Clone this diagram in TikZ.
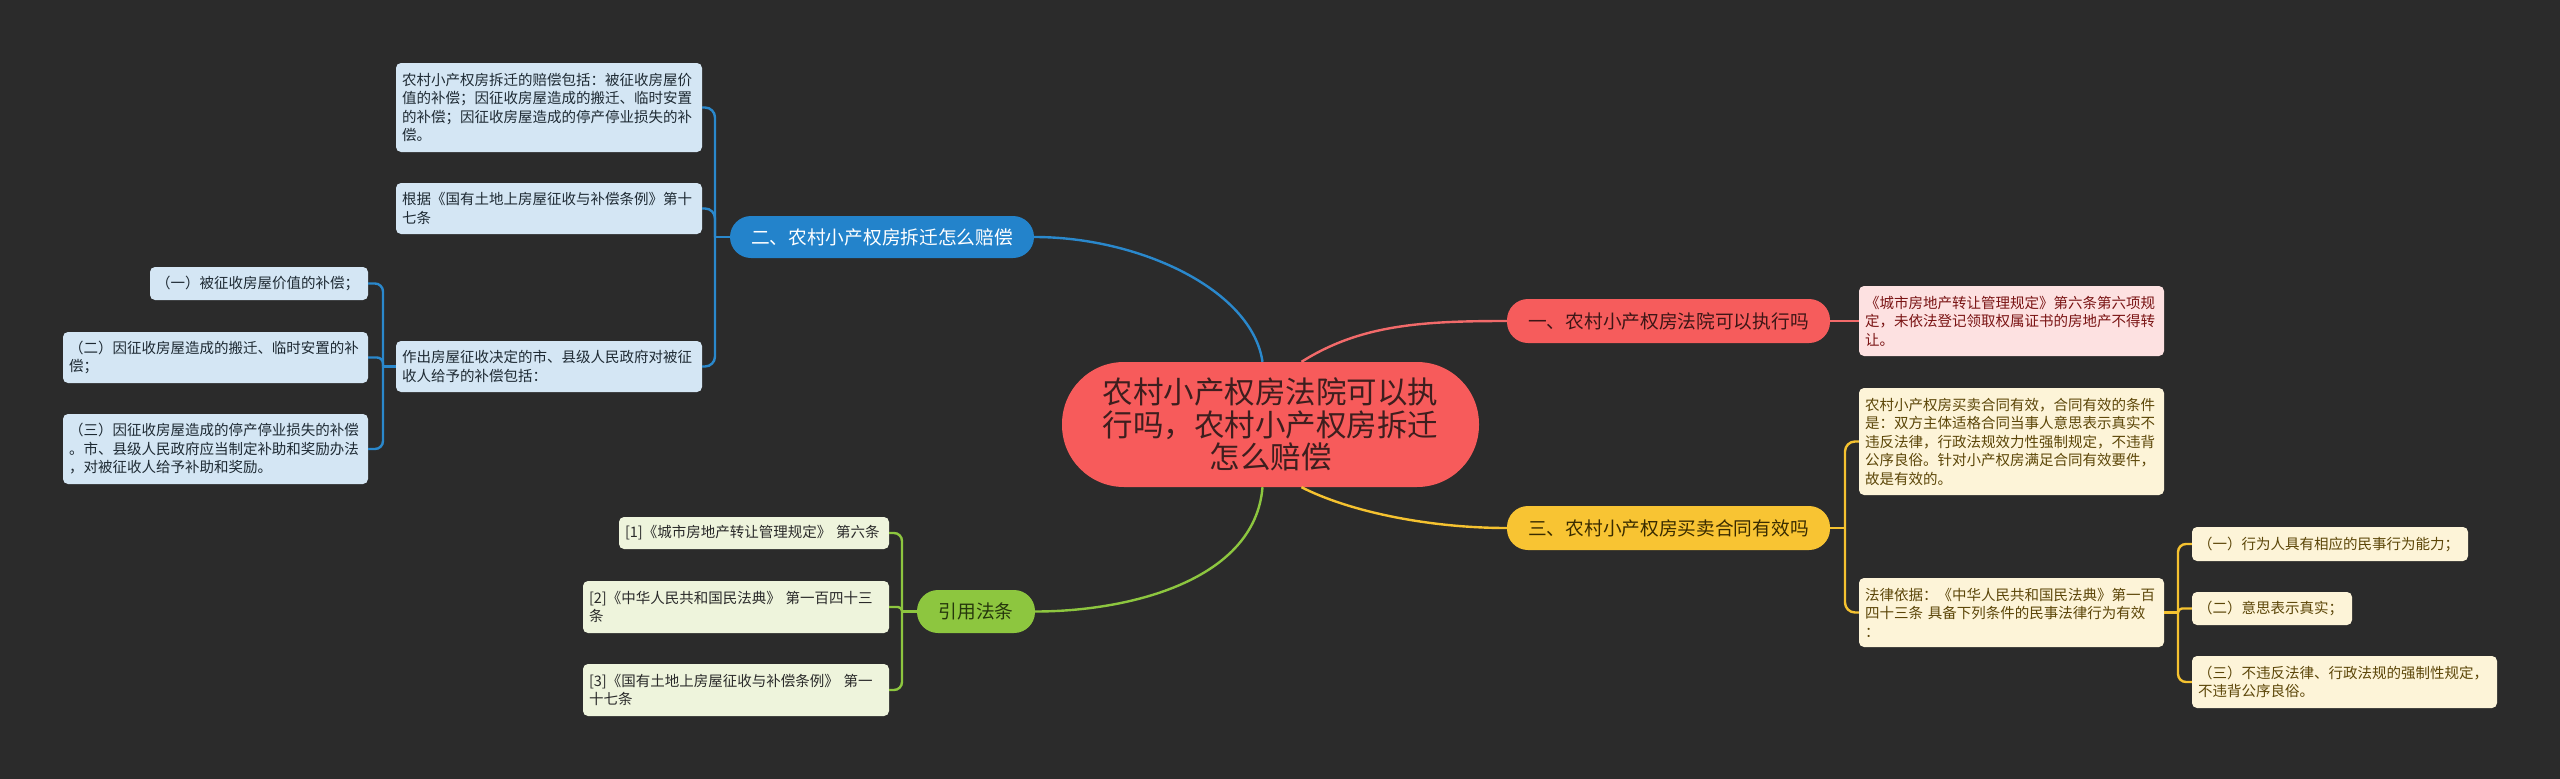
\documentclass[tikz,border=0pt]{standalone}
\usepackage{fontspec}
\setmainfont{Noto Sans CJK SC}
\definecolor{bg}{HTML}{2B2B2B}
\definecolor{centerfill}{HTML}{F75B5B}
\definecolor{centertext}{HTML}{3D1E1E}
\definecolor{bluemain}{HTML}{2383CB}
\definecolor{blueline}{HTML}{2A88CC}
\definecolor{bleaffill}{HTML}{D4E6F4}
\definecolor{bleaftext}{HTML}{1E2A33}
\definecolor{redmain}{HTML}{F65C5C}
\definecolor{redline}{HTML}{F26A6A}
\definecolor{redtext}{HTML}{3D1616}
\definecolor{rleaffill}{HTML}{FDE1E1}
\definecolor{rleaftext}{HTML}{7A1414}
\definecolor{yelmain}{HTML}{F8C433}
\definecolor{yelline}{HTML}{F5C230}
\definecolor{yeltext}{HTML}{3A2C00}
\definecolor{yleaffill}{HTML}{FDF4D8}
\definecolor{yleaftext}{HTML}{5C4608}
\definecolor{grnmain}{HTML}{8DC63F}
\definecolor{grnline}{HTML}{8DC63F}
\definecolor{grntext}{HTML}{26380C}
\definecolor{gleaffill}{HTML}{EEF4DC}
\definecolor{gleaftext}{HTML}{2A2A2A}
\begin{document}
\begin{tikzpicture}[x=1pt,y=-1pt,
  box/.style={rounded corners=5pt, inner xsep=6pt, inner ysep=0pt, align=left,
    font=\fontsize{14.5}{18.5}\selectfont},
  bleaf/.style={box, fill=bleaffill, text=bleaftext},
  rleaf/.style={box, fill=rleaffill, text=rleaftext},
  yleaf/.style={box, fill=yleaffill, text=yleaftext},
  gleaf/.style={box, fill=gleaffill, text=gleaftext},
  mainb/.style={rounded corners=21pt, inner sep=0pt, align=center,
    font=\fontsize{18.7}{22}\selectfont},
  conn/.style={line width=2.4pt},
  bl/.style={conn, draw=blueline},
  rl/.style={conn, draw=redline},
  yl/.style={conn, draw=yelline},
  gl/.style={conn, draw=grnline},
]
\fill[bg] (0,0) rectangle (2560,779);
\useasboundingbox (0,0) rectangle (2560,779);

% center
\node[fill=centerfill, text=centertext, rounded corners=62pt, minimum width=417pt,
  minimum height=125pt, inner sep=0pt, align=center,
  font=\fontsize{30.5}{32.5}\selectfont] (C) at (1270.5,424.5)
  {农村小产权房法院可以执\\行吗，农村小产权房拆迁\\怎么赔偿};

% main branches
\node[mainb, fill=bluemain, text=white, minimum width=304pt, minimum height=42pt] (BM) at (882,237) {二、农村小产权房拆迁怎么赔偿};
\node[mainb, fill=redmain, text=redtext, minimum width=323pt, minimum height=44pt] (RM) at (1668.5,321) {一、农村小产权房法院可以执行吗};
\node[mainb, fill=yelmain, text=yeltext, minimum width=323pt, minimum height=44pt] (YM) at (1668.5,528) {三、农村小产权房买卖合同有效吗};
\node[mainb, fill=grnmain, text=grntext, minimum width=118pt, minimum height=43pt] (GM) at (976,611.5) {引用法条};

% blue leaves
\node[bleaf, text width=294pt, minimum height=89pt] (B1) at (549,107.5)
  {农村小产权房拆迁的赔偿包括：被征收房屋价\\值的补偿；因征收房屋造成的搬迁、临时安置\\的补偿；因征收房屋造成的停产停业损失的补\\偿。};
\node[bleaf, text width=294pt, minimum height=51pt] (B2) at (549,208.5)
  {根据《国有土地上房屋征收与补偿条例》第十\\七条};
\node[bleaf, text width=294pt, minimum height=51pt] (B3) at (549,366.5)
  {作出房屋征收决定的市、县级人民政府对被征\\收人给予的补偿包括：};
\node[bleaf, text width=206pt, minimum height=33pt] (B3a) at (259,283.5)
  {（一）被征收房屋价值的补偿；};
\node[bleaf, text width=293pt, minimum height=51pt] (B3b) at (215.5,357.5)
  {（二）因征收房屋造成的搬迁、临时安置的补\\偿；};
\node[bleaf, text width=293pt, minimum height=70pt] (B3c) at (215.5,449)
  {（三）因征收房屋造成的停产停业损失的补偿\\。市、县级人民政府应当制定补助和奖励办法\\，对被征收人给予补助和奖励。};

% green leaves
\node[gleaf, text width=258pt, minimum height=32pt] (G1) at (754,533)
  {[1]《城市房地产转让管理规定》 第六条};
\node[gleaf, text width=294pt, minimum height=52pt] (G2) at (736,607)
  {[2]《中华人民共和国民法典》 第一百四十三\\条};
\node[gleaf, text width=294pt, minimum height=52pt] (G3) at (736,690)
  {[3]《国有土地上房屋征收与补偿条例》 第一\\十七条};

% red leaf
\node[rleaf, text width=293pt, minimum height=70pt] (R1) at (2011.5,321)
  {《城市房地产转让管理规定》第六条第六项规\\定，未依法登记领取权属证书的房地产不得转\\让。};

% yellow leaves
\node[yleaf, text width=293pt, minimum height=107pt] (Y1) at (2011.5,441.5)
  {农村小产权房买卖合同有效，合同有效的条件\\是：双方主体适格合同当事人意思表示真实不\\违反法律，行政法规效力性强制规定，不违背\\公序良俗。针对小产权房满足合同有效要件，\\故是有效的。};
\node[yleaf, text width=293pt, minimum height=69pt] (Y2) at (2011.5,612.5)
  {法律依据：《中华人民共和国民法典》第一百\\四十三条 具备下列条件的民事法律行为有效\\：};
\node[yleaf, text width=264pt, minimum height=34pt] (Y2a) at (2330,544)
  {（一）行为人具有相应的民事行为能力；};
\node[yleaf, text width=148pt, minimum height=33pt] (Y2b) at (2272,608.5)
  {（二）意思表示真实；};
\node[yleaf, text width=293pt, minimum height=52pt] (Y2c) at (2344.5,682)
  {（三）不违反法律、行政法规的强制性规定，\\不违背公序良俗。};

% center connectors
\draw[bl] ([xshift=-8pt]C.north) .. controls (1252,290) and (1140,237) .. (BM.east);
\draw[rl] ([xshift=31pt]C.north) .. controls (1360,325) and (1420,321) .. (RM.west);
\draw[yl] ([xshift=31pt]C.south) .. controls (1350,512) and (1430,528) .. (YM.west);
\draw[gl] ([xshift=-8pt]C.south) .. controls (1255,580) and (1130,611.5) .. (GM.east);

% blue brackets
\coordinate (bs) at (715,237);
\draw[bl] (BM.west) -- (bs);
\draw[bl, rounded corners=10pt] (bs) |- (B1.east);
\draw[bl, rounded corners=10pt] (bs) |- (B2.east);
\draw[bl, rounded corners=10pt] (bs) |- (B3.east);
\coordinate (bs2) at (383,366.5);
\draw[bl] (B3.west) -- (bs2);
\draw[bl, rounded corners=8pt] (bs2) |- (B3a.east);
\draw[bl, rounded corners=6pt] (bs2) |- (B3b.east);
\draw[bl, rounded corners=8pt] (bs2) |- (B3c.east);

% green brackets
\coordinate (gs) at (902,611.5);
\draw[gl] (GM.west) -- (gs);
\draw[gl, rounded corners=8pt] (gs) |- (G1.east);
\draw[gl, rounded corners=4pt] (gs) |- (G2.east);
\draw[gl, rounded corners=8pt] (gs) |- (G3.east);

% red link
\draw[rl] (RM.east) -- (R1.west);

% yellow brackets
\coordinate (ys) at (1845,528);
\draw[yl] (YM.east) -- (ys);
\draw[yl, rounded corners=10pt] (ys) |- (Y1.west);
\draw[yl, rounded corners=10pt] (ys) |- (Y2.west);
\coordinate (ys2) at (2178,612.5);
\draw[yl] (Y2.east) -- (ys2);
\draw[yl, rounded corners=8pt] (ys2) |- (Y2a.west);
\draw[yl, rounded corners=4pt] (ys2) |- (Y2b.west);
\draw[yl, rounded corners=8pt] (ys2) |- (Y2c.west);
\end{tikzpicture}
\end{document}
